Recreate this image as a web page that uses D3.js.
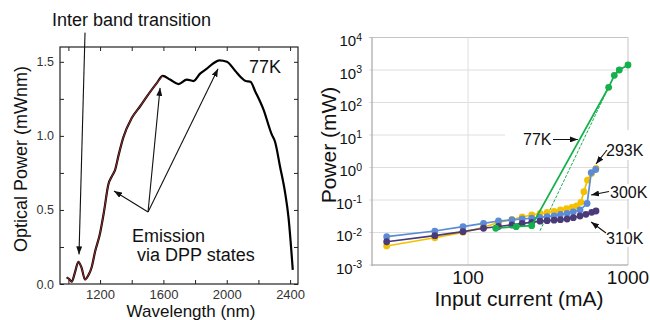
<!DOCTYPE html>
<html><head><meta charset="utf-8">
<script src="https://cdn.jsdelivr.net/npm/d3@7"></script>
<style>
body{margin:0;background:#fff;}
svg{display:block;font-family:"Liberation Sans",Arial,sans-serif;}
</style>
</head><body>
<svg id="c" width="650" height="320"></svg>
<script>
// ---------- Left panel data (77K emission spectrum) ----------
const wavelength = [989,1004,1021,1042,1063,1083,1105,1124,1148,1168,1200,1225,1252,1276,1295,1317,1347,1400,1453,1495,1558,1596,1642,1695,1748,1790,1832,1870,1916,1954,2001,2053,2095,2120,2150,2180,2231,2284,2305,2337,2368,2390,2417];
const opticalPower = [0.045,0.034,0.016,0.08,0.15,0.11,0.03,0.055,0.117,0.216,0.343,0.49,0.67,0.73,0.77,0.87,0.99,1.12,1.20,1.265,1.356,1.405,1.38,1.35,1.38,1.37,1.42,1.45,1.49,1.51,1.50,1.44,1.39,1.37,1.365,1.30,1.18,1.01,0.96,0.79,0.62,0.45,0.095];
const redSegmentEnd = 1596;
const leftXTicks = [1000,1200,1400,1600,1800,2000,2200,2400];
const leftXLabels = [1200,1600,2000,2400];
const leftYTicks = [0,0.25,0.5,0.75,1.0,1.25,1.5];
const leftYLabels = [0,0.5,1.0,1.5];

// ---------- Right panel data (power vs input current) ----------
const current293 = [31,62,93,125,155,188,218,250,282,312,345,378,413,447,477,508,530,558,591,631];
const power293   = [0.00385,0.0069,0.0101,0.0145,0.0203,0.0251,0.030,0.0345,0.0385,0.0412,0.0449,0.0492,0.054,0.0596,0.066,0.085,0.18,0.41,0.65,0.93];
const current300 = [31,62,93,125,155,188,218,250,280,312,345,378,416,455,501,555,589,628];
const power300   = [0.00743,0.0111,0.0151,0.0192,0.0226,0.0243,0.026,0.0274,0.0294,0.0306,0.0326,0.0358,0.039,0.0434,0.0492,0.078,0.70,0.867];
const current310 = [31,62,93,125,155,188,218,250,282,312,345,378,416,455,501,546,593,631];
const power310   = [0.0052,0.008,0.0106,0.0135,0.0153,0.017,0.0192,0.0206,0.0223,0.0231,0.0239,0.0248,0.026,0.0285,0.0322,0.0363,0.0419,0.0459];
const current77  = [149,200,250,757,821,882,1000];
const power77    = [0.0135,0.0151,0.0162,294,687,1000,1425];
const trend77Current = [282,757];
const trend77Power   = [0.0114,294];
const rightYExponents = [-3,-2,-1,0,1,2,3,4];
const rightXTicks = [100,1000];

const svg = d3.select("#c");
const defs = svg.append("defs");
defs.append("marker").attr("id","ah").attr("markerUnits","userSpaceOnUse")
  .attr("markerWidth",8).attr("markerHeight",6).attr("refX",8).attr("refY",3).attr("orient","auto")
  .append("path").attr("d","M0,0 L8,3 L0,6 Z").attr("fill","#111");

// ================= LEFT PANEL =================
const lx = d3.scaleLinear().domain([947, 2450]).range([60, 298]);
const ly = d3.scaleLinear().domain([0, 1.6]).range([284, 47]);
const L = svg.append("g");

L.append("rect").attr("x",lx.range()[0]).attr("y",ly.range()[1])
  .attr("width",lx.range()[1]-lx.range()[0]).attr("height",ly.range()[0]-ly.range()[1])
  .attr("fill","none").attr("stroke","#222").attr("stroke-width",1.2);

function styleAxis(g){
  g.select(".domain").remove();
  g.selectAll(".tick line").attr("stroke","#222").attr("stroke-width",1);
  g.selectAll(".tick text").attr("fill","#333").attr("font-family",'"Liberation Sans",Arial,sans-serif');
}
L.append("g").attr("transform",`translate(0,${ly.range()[0]})`)
  .call(d3.axisBottom(lx).tickValues(leftXTicks).tickSize(-4).tickPadding(6)
    .tickFormat(d => leftXLabels.includes(d) ? d : ""))
  .call(styleAxis).call(g=>g.selectAll(".tick text").attr("font-size",13));
L.append("g").attr("transform",`translate(0,${ly.range()[1]})`)
  .call(d3.axisTop(lx).tickValues(leftXTicks).tickSize(-4).tickFormat(""))
  .call(styleAxis);
L.append("g").attr("transform",`translate(${lx.range()[0]},0)`)
  .call(d3.axisLeft(ly).tickValues(leftYTicks).tickSize(-4).tickPadding(6)
    .tickFormat(d => leftYLabels.includes(d) ? d.toFixed(1) : ""))
  .call(styleAxis).call(g=>g.selectAll(".tick text").attr("font-size",12.5));
L.append("g").attr("transform",`translate(${lx.range()[1]},0)`)
  .call(d3.axisRight(ly).tickValues(leftYTicks).tickSize(-4).tickFormat(""))
  .call(styleAxis);

const spec = wavelength.map((w,i)=>({w, p:opticalPower[i]}));
const lline = d3.line().x(d=>lx(d.w)).y(d=>ly(d.p)).curve(d3.curveMonotoneX);
L.append("path").datum(spec).attr("d",lline).attr("fill","none")
  .attr("stroke","#000").attr("stroke-width",2.2).attr("stroke-linejoin","round");
L.append("path").datum(spec.filter(d=>d.w<=redSegmentEnd)).attr("d",lline).attr("fill","none")
  .attr("stroke","#8a2a2a").attr("stroke-width",1.1).attr("stroke-linejoin","round");

// axis titles
L.append("text").attr("x",(lx.range()[0]+lx.range()[1])/2+12).attr("y",316.5)
  .attr("text-anchor","middle").attr("font-size",17).attr("fill","#111").text("Wavelength (nm)");
L.append("text").attr("transform","translate(27,159) rotate(-90)")
  .attr("text-anchor","middle").attr("font-size",18).attr("fill","#111").text("Optical Power (mWnm)");

// annotations
L.append("text").attr("x",249).attr("y",73).attr("font-size",18).attr("fill","#111").text("77K");
L.append("text").attr("x",52).attr("y",26).attr("font-size",18).attr("fill","#111").text("Inter band transition");
L.append("line").attr("x1",lx(1105)).attr("y1",ly(1.697)).attr("x2",lx(1067)).attr("y2",ly(0.2))
  .attr("stroke","#111").attr("stroke-width",1.1).attr("marker-end","url(#ah)");
const emitOrigin = [1503, 0.486];
const emitTips = [[1288,0.628],[1579,1.324],[1945,1.453]];
emitTips.forEach(t=>{
  L.append("line").attr("x1",lx(emitOrigin[0])).attr("y1",ly(emitOrigin[1]))
    .attr("x2",lx(t[0])).attr("y2",ly(t[1]))
    .attr("stroke","#111").attr("stroke-width",1.1).attr("marker-end","url(#ah)");
});
L.append("text").attr("x",132).attr("y",242).attr("font-size",18).attr("fill","#111").text("Emission");
L.append("text").attr("x",137).attr("y",261).attr("font-size",18).attr("fill","#111").text("via DPP states");

// ================= RIGHT PANEL =================
const rx = d3.scaleLog().domain([25.1, 1000]).range([372, 628]);
const ry = d3.scaleLog().domain([1e-3, 1e4]).range([265, 37.5]);
const R = svg.append("g");

// gridlines
rightYExponents.forEach(e=>{
  R.append("line").attr("x1",rx.range()[0]-3).attr("x2",rx.range()[1])
    .attr("y1",ry(Math.pow(10,e))).attr("y2",ry(Math.pow(10,e)))
    .attr("stroke", e===4 ? "#c4c4c4" : "#dedede").attr("stroke-width",1);
});
rightXTicks.forEach(t=>{
  R.append("line").attr("x1",rx(t)).attr("x2",rx(t)).attr("y1",ry.range()[1]).attr("y2",ry.range()[0])
    .attr("stroke", t===1000 ? "#c4c4c4" : "#dedede").attr("stroke-width",1);
});
// axes lines
R.append("line").attr("x1",rx.range()[0]).attr("x2",rx.range()[0]).attr("y1",ry.range()[1]).attr("y2",ry.range()[0]+1)
  .attr("stroke","#a6a6a6").attr("stroke-width",1.2);
R.append("line").attr("x1",rx.range()[0]).attr("x2",rx.range()[1]).attr("y1",ry.range()[0]).attr("y2",ry.range()[0])
  .attr("stroke","#a6a6a6").attr("stroke-width",1.2);

// white label boxes (text boxes with white fill)
const boxes = [[505,130,132,19],[604,141,44,19],[600,184,48,15],[600,229,46,18]];
boxes.forEach(b=>R.append("rect").attr("x",b[0]).attr("y",b[1]).attr("width",b[2]).attr("height",b[3]).attr("fill","#fff"));

// y tick labels
rightYExponents.forEach(e=>{
  const t = R.append("text").attr("x",362).attr("y",ry(Math.pow(10,e))+8.5)
    .attr("text-anchor","end").attr("fill","#111");
  t.append("tspan").attr("font-size",15).text("10");
  t.append("tspan").attr("font-size",10.5).attr("dy",-5.5).text(String(e));
});
// x tick labels
rightXTicks.forEach(t=>{
  R.append("text").attr("x",rx(t)).attr("y",284).attr("text-anchor","middle")
    .attr("font-size",19).attr("fill","#111").text(t);
});
R.append("text").attr("x",519).attr("y",306).attr("text-anchor","middle")
  .attr("font-size",21).attr("fill","#111").text("Input current (mA)");
R.append("text").attr("transform","translate(336,145) rotate(-90)").attr("text-anchor","middle")
  .attr("font-size",21).attr("fill","#111").text("Power (mW)");

// series
const rline = d3.line().x(d=>rx(d[0])).y(d=>ry(d[1]));
const series = [
  {c:current293, p:power293, color:"#f5c000"},
  {c:current300, p:power300, color:"#5b8bd6"},
  {c:current310, p:power310, color:"#4a3a78"},
  {c:current77,  p:power77,  color:"#14b04c"}
];
// 77K trend (thin dashed)
R.append("path").datum(trend77Current.map((c,i)=>[c,trend77Power[i]])).attr("d",rline)
  .attr("fill","none").attr("stroke","#14b04c").attr("stroke-width",1).attr("stroke-dasharray","3,1.5");
series.forEach(s=>{
  const pts = s.c.map((c,i)=>[c,s.p[i]]);
  R.append("path").datum(pts).attr("d",rline).attr("fill","none")
    .attr("stroke",s.color).attr("stroke-width",1.7);
  R.selectAll(null).data(pts).enter().append("circle")
    .attr("cx",d=>rx(d[0])).attr("cy",d=>ry(d[1])).attr("r",3.4).attr("fill",s.color);
});

// labels with arrows
const rLabels = [
  {text:"77K",  x:523, y:145,  from:[553,139.5], tip:[486,7.3]},
  {text:"293K", x:606, y:156,  from:[607,150],   tip:[631,1.28]},
  {text:"300K", x:610, y:198,  from:[609,191.5], tip:[588,0.143]},
  {text:"310K", x:606, y:244,  from:[606,233],   tip:[588,0.021]}
];
rLabels.forEach(l=>{
  R.append("text").attr("x",l.x).attr("y",l.y).attr("font-size",16).attr("fill","#111").text(l.text);
  R.append("line").attr("x1",l.from[0]).attr("y1",l.from[1]).attr("x2",rx(l.tip[0])).attr("y2",ry(l.tip[1]))
    .attr("stroke","#111").attr("stroke-width",1.1).attr("marker-end","url(#ah)");
});
</script>
</body></html>
